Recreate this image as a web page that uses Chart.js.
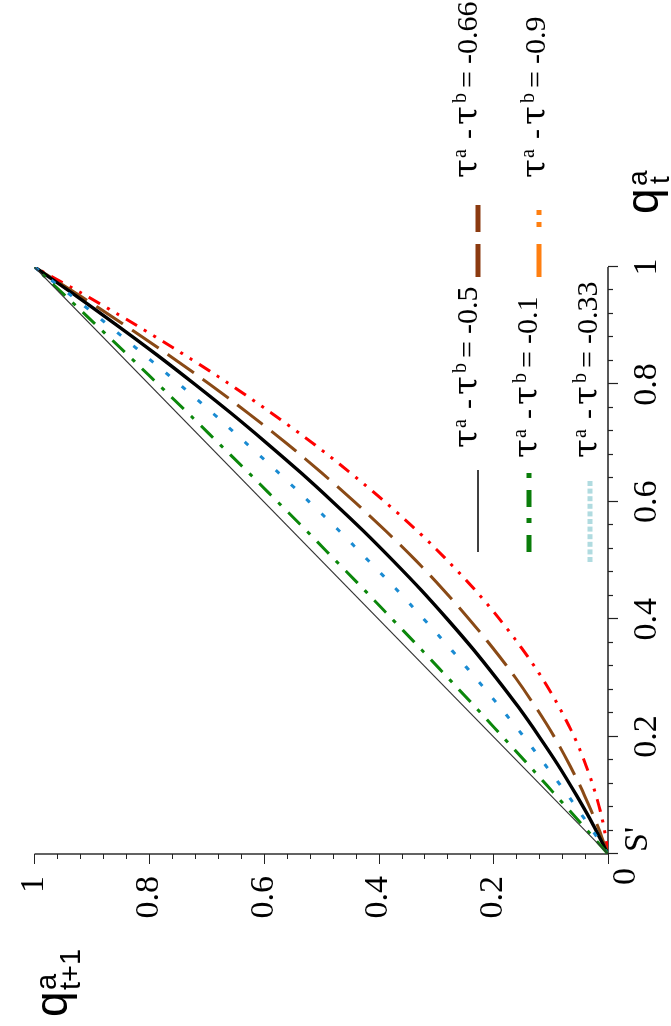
<!DOCTYPE html>
<html>
<head>
<meta charset="utf-8">
<style>
  html, body { margin: 0; padding: 0; background: #fff; overflow: hidden; width: 671px; height: 1026px; }
  /* the figure is laid out landscape and turned a quarter turn */
  #frame { position: absolute; left: 0; top: 0; width: 1026px; height: 671px;
           transform-origin: 0 0; transform: translateY(1026px) rotate(-90deg); }
  canvas { display: block; }
</style>
<script src="https://cdn.jsdelivr.net/npm/chart.js@4.4.1/dist/chart.umd.min.js"></script>
</head>
<body>
<div id="frame"><canvas id="c" width="1026" height="671"></canvas></div>
<script>
// share q^a_t
const qt = [0, 0.05, 0.1, 0.15, 0.2, 0.25, 0.3, 0.35, 0.4, 0.45, 0.5,
            0.55, 0.6, 0.65, 0.7, 0.75, 0.8, 0.85, 0.9, 0.95, 1];

// next-period share q^a_{t+1} for each tax gap tau^a - tau^b
const gap01  = [0, 0.045, 0.091, 0.137, 0.184, 0.231, 0.279, 0.327, 0.376, 0.425, 0.475,
                0.525, 0.576, 0.627, 0.679, 0.731, 0.784, 0.837, 0.891, 0.945, 1];
const gap033 = [0, 0.034, 0.070, 0.108, 0.147, 0.188, 0.231, 0.275, 0.321, 0.368, 0.418,
                0.468, 0.521, 0.575, 0.631, 0.688, 0.747, 0.808, 0.870, 0.934, 1];
const gap05  = [0, 0.026, 0.055, 0.086, 0.120, 0.156, 0.195, 0.236, 0.280, 0.326, 0.375,
                0.426, 0.480, 0.536, 0.595, 0.656, 0.720, 0.786, 0.855, 0.926, 1];
const gap066 = [0, 0.019, 0.041, 0.066, 0.094, 0.126, 0.161, 0.200, 0.242, 0.287, 0.335,
                0.387, 0.442, 0.500, 0.561, 0.626, 0.694, 0.766, 0.841, 0.919, 1];
const gap09  = [0, 0.008, 0.021, 0.038, 0.059, 0.085, 0.115, 0.150, 0.189, 0.232, 0.280,
                0.332, 0.389, 0.450, 0.515, 0.585, 0.659, 0.738, 0.821, 0.908, 1];

// 45-degree reference line
const diagX = [0, 1];
const diagY = [0, 1];

// tick labels
const xTickLabels = ["S'", '0.2', '0.4', '0.6', '0.8', '1'];
const yTickLabels = ['0', '0.2', '0.4', '0.6', '0.8', '1'];

// legend text values
const gapLabels = ['-0.1', '-0.33', '-0.5', '-0.66', '-0.9'];

const SERIF = '"Liberation Serif", "Times New Roman", serif';
const GREEK = '"DejaVu Serif", "Liberation Serif", serif';
const SANS = '"Liberation Sans", Arial, sans-serif';

const pts = (xs, ys) => xs.map((x, i) => ({ x: x, y: ys[i] }));

const curveStyle = (color, dash, width) => ({
  borderColor: color, borderWidth: width, borderDash: dash, borderCapStyle: 'butt',
  pointRadius: 0, fill: false, cubicInterpolationMode: 'monotone'
});

const datasets = [
  Object.assign({ data: pts(diagX, diagY) }, curveStyle('#333333', [], 1.1)),
  Object.assign({ data: pts(qt, gap01) },  curveStyle('#0b870b', [17, 10, 4, 10], 3)),
  Object.assign({ data: pts(qt, gap033) }, curveStyle('#1a8bd2', [5, 16], 3)),
  Object.assign({ data: pts(qt, gap05) },  curveStyle('#000000', [], 3.4)),
  Object.assign({ data: pts(qt, gap066) }, curveStyle('#8a4a16', [32, 11], 3)),
  Object.assign({ data: pts(qt, gap09) },  curveStyle('#ff0000', [13, 8, 3, 8, 3, 8], 3))
];

// legend swatches and text placement (canvas pixels)
const legendItems = [
  { text: gapLabels[2], color: '#000000', width: 1.4, dash: [],              s0: 474, s1: 556, sy: 478, tx: 579, base: 477 },
  { text: gapLabels[3], color: '#8b3a10', width: 5,   dash: [33, 12],         s0: 749, s1: 821, sy: 478, tx: 849, base: 477 },
  { text: gapLabels[0], color: '#0a7d0a', width: 5,   dash: [17, 12, 5, 11],  s0: 474, s1: 553, sy: 529, tx: 569, base: 537 },
  { text: gapLabels[4], color: '#ff7f10', width: 5,   dash: [33, 17, 5, 7, 5, 40], s0: 749, s1: 816, sy: 539, tx: 849, base: 545 },
  { text: gapLabels[1], color: '#b0dbe0', width: 5,   dash: [5, 2.6],         s0: 464, s1: 546, sy: 590, tx: 569, base: 597 }
];

function drawGapLabel(ctx, x, base, value) {
  const big = '30px ' + SERIF, small = '20px ' + SERIF, greek = '34px ' + GREEK;
  ctx.textAlign = 'left';
  ctx.textBaseline = 'alphabetic';
  ctx.fillStyle = '#000';
  ctx.font = greek; ctx.fillText('\u03C4', x - 1, base);
  ctx.font = small; ctx.fillText('a', x + 19, base - 11);
  ctx.font = big;   ctx.fillText('-', x + 38, base);
  ctx.font = greek; ctx.fillText('\u03C4', x + 52, base);
  ctx.font = small; ctx.fillText('b', x + 74, base - 11);
  ctx.font = big;   ctx.fillText('=', x + 89, base);
  ctx.font = big;   ctx.fillText(value, x + 113, base);
}

const decorations = {
  id: 'decorations',
  beforeDatasetsDraw(chart) {
    const { ctx, chartArea: a, scales: { x, y } } = chart;
    ctx.save();
    ctx.strokeStyle = '#222';
    ctx.lineWidth = 1.4;
    ctx.beginPath();
    ctx.moveTo(a.left, a.top); ctx.lineTo(a.left, a.bottom); ctx.lineTo(a.right, a.bottom);
    ctx.stroke();
    // major ticks every 0.2, minor every 0.04, pointing outward
    ctx.lineWidth = 1.2;
    ctx.beginPath();
    for (let i = 0; i <= 25; i++) {
      const v = i / 25, len = (i % 5 === 0) ? 10 : 5;
      const px = Math.round(x.getPixelForValue(v)) + 0.5;
      ctx.moveTo(px, a.bottom); ctx.lineTo(px, a.bottom + len);
      const py = Math.round(y.getPixelForValue(v)) + 0.5;
      ctx.moveTo(a.left, py); ctx.lineTo(a.left - len, py);
    }
    ctx.stroke();
    ctx.restore();
  },
  afterDraw(chart) {
    const { ctx, chartArea: a, scales: { x, y } } = chart;
    ctx.save();
    ctx.fillStyle = '#000';
    // corner labels
    ctx.font = '34px ' + SERIF;
    ctx.textBaseline = 'middle';
    ctx.textAlign = 'right';
    ctx.fillText(yTickLabels[0], a.left - 14, y.getPixelForValue(0) + 18);
    ctx.textAlign = 'left';
    ctx.fillText(xTickLabels[0], x.getPixelForValue(0) + 2, a.bottom + 30);

    // axis titles
    ctx.textBaseline = 'alphabetic';
    ctx.font = '46px ' + SANS;
    ctx.fillText('q', 9, 67);
    ctx.font = '29px ' + SANS;
    ctx.fillText('a', 36, 56);
    ctx.fillText('t+1', 36, 80);

    ctx.font = '46px ' + SANS;
    ctx.fillText('q', 812, 658);
    ctx.font = '28px ' + SANS;
    ctx.fillText('a', 840, 647);
    ctx.fillText('t', 842, 669);

    // legend
    legendItems.forEach(it => {
      ctx.save();
      ctx.strokeStyle = it.color;
      ctx.lineWidth = it.width;
      ctx.lineCap = 'butt';
      ctx.setLineDash(it.dash);
      ctx.beginPath();
      ctx.moveTo(it.s0, it.sy); ctx.lineTo(it.s1, it.sy);
      ctx.stroke();
      ctx.restore();
      drawGapLabel(ctx, it.tx, it.base, it.text);
    });
    ctx.restore();
  }
};

const tickFont = { family: '"Liberation Serif", "Times New Roman", serif', size: 34 };

new Chart(document.getElementById('c'), {
  type: 'line',
  data: { datasets: datasets },
  options: {
    responsive: false,
    animation: false,
    devicePixelRatio: 1,
    layout: { padding: { left: 0, top: 20, right: 267, bottom: 0 } },
    plugins: { legend: { display: false }, tooltip: { enabled: false } },
    scales: {
      x: {
        type: 'linear', position: 'bottom', min: 0, max: 1,
        grid: { display: false }, border: { display: false },
        ticks: {
          stepSize: 0.2, autoSkip: false, maxRotation: 0, padding: 11,
          color: '#000', font: tickFont,
          callback: v => { const i = Math.round(v / 0.2); return i === 0 ? '' : xTickLabels[i]; }
        },
        afterFit: s => { s.height = 63; }
      },
      y: {
        type: 'linear', position: 'left', min: 0, max: 1,
        grid: { display: false }, border: { display: false },
        ticks: {
          stepSize: 0.2, autoSkip: false, padding: 14,
          color: '#000', font: tickFont,
          callback: v => { const i = Math.round(v / 0.2); return i === 0 ? '' : yTickLabels[i]; }
        },
        afterFit: s => { s.width = 172; }
      }
    }
  },
  plugins: [decorations]
});
</script>
</body>
</html>
